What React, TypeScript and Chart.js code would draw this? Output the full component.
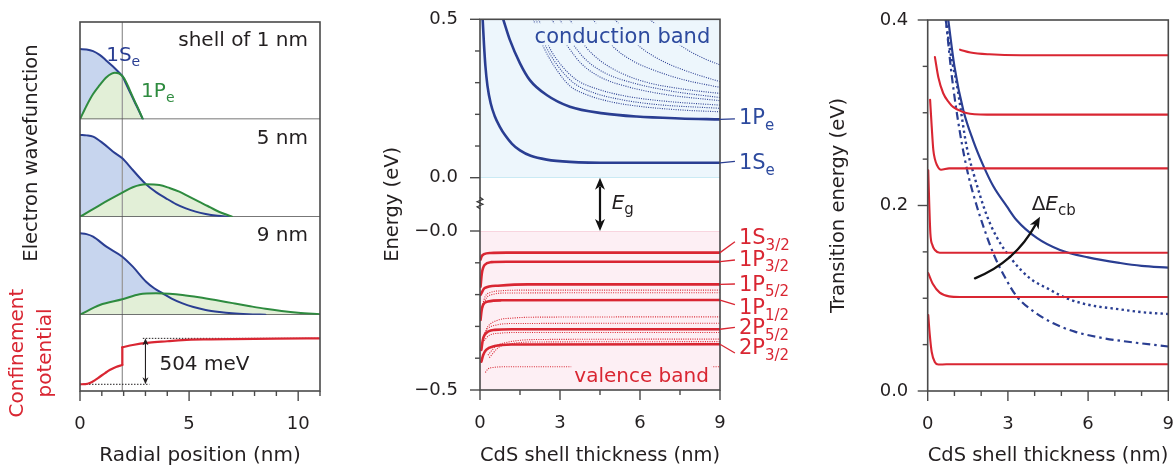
import React, { useEffect, useRef } from 'react';
import { Chart, registerables } from 'chart.js';

Chart.register(...registerables);

const FONT = '"DejaVu Sans", "Open Sans", sans-serif';
const TICK_FS = 18;
const TITLE_FS = 20;
const YTITLE_FS = 19.5;
const LS = 20;
const TXT = '#231f20';
const FRAME = '#4a4a4a';
const BLUE = '#2a3e92';
const BLUE_TXT = '#2d4a9e';
const GREEN = '#2e8b3f';
const RED = '#d92632';
const BLUE_FILL = '#c7d5ee';
const GREEN_FILL = '#e2efd7';
const CB_FILL = '#edf6fc';
const CB_EDGE = '#bde4f2';
const VB_FILL = '#fdeff4';
const VB_EDGE = '#f6cdd9';

Chart.defaults.font.family = FONT;
Chart.defaults.font.size = TICK_FS;
Chart.defaults.color = TXT;

// ---------------- Left panel: wavefunctions (normalised panel height) ----------------
const coreRadius = 1.94;
const s1_r1S = [0, 0.3, 0.6, 0.9, 1.2, 1.5, 1.8, 1.94, 2.1, 2.3, 2.5, 2.7, 2.88];
const s1_1S = [0.722, 0.718, 0.7, 0.662, 0.605, 0.545, 0.478, 0.445, 0.37, 0.275, 0.18, 0.088, 0];
const s1_r1P = [0, 0.3, 0.6, 0.9, 1.2, 1.45, 1.6, 1.8, 1.94, 2.1, 2.3, 2.5, 2.7, 2.88];
const s1_1P = [0, 0.14, 0.26, 0.35, 0.43, 0.47, 0.479, 0.47, 0.445, 0.39, 0.29, 0.19, 0.095, 0];

const s5_r1S = [0, 0.3, 0.6, 1.06, 1.52, 1.94, 2.42, 3.03, 3.5, 3.94, 4.4, 4.85, 5.3, 5.76, 6.3, 6.82];
const s5_1S = [0.839, 0.835, 0.822, 0.753, 0.667, 0.599, 0.479, 0.332, 0.25, 0.189, 0.13, 0.086, 0.052, 0.028, 0.01, 0];
const s5_r1P = [0, 0.91, 1.94, 2.42, 3.03, 3.64, 4.1, 4.55, 5.0, 5.45, 5.85, 6.2, 6.6, 6.97];
const s5_1P = [0, 0.12, 0.246, 0.302, 0.332, 0.325, 0.295, 0.257, 0.205, 0.154, 0.11, 0.069, 0.03, 0];

const s9_r1S = [0, 0.3, 0.6, 1.21, 1.94, 2.42, 3.03, 3.4, 3.79, 4.2, 4.7, 5.2, 5.76, 6.4, 6.97, 7.7, 8.5];
const s9_1S = [0.83, 0.822, 0.796, 0.694, 0.592, 0.49, 0.337, 0.27, 0.218, 0.165, 0.116, 0.078, 0.048, 0.027, 0.014, 0.005, 0];
const s9_r1P = [0, 0.91, 1.94, 2.73, 3.48, 4.1, 4.7, 5.45, 6.21, 7, 7.73, 8.5, 9.24, 10, 11];
const s9_1P = [0, 0.099, 0.157, 0.208, 0.218, 0.213, 0.201, 0.178, 0.15, 0.118, 0.089, 0.06, 0.038, 0.02, 0.004];

const potCoreR = [0, 0.25, 0.45, 0.7, 0.91, 1.15, 1.36, 1.65, 1.94];
const potCoreV = [0.088, 0.09, 0.105, 0.145, 0.187, 0.235, 0.275, 0.315, 0.341];
const potShellR = [1.94, 2.42, 3.18, 4, 4.7, 6, 6.97, 9, 11];
const potShellV = [0.573, 0.603, 0.633, 0.652, 0.668, 0.677, 0.681, 0.687, 0.69];
const offsetLabel = '504 meV';

// ---------------- Middle panel: energies (eV) vs shell thickness (nm) ----------------
const e1S_d = [0.1, 0.15, 0.2, 0.28, 0.4, 0.55, 0.75, 0.95, 1.2, 1.5, 1.9, 2.5, 3.37, 5, 9];
const e1S_E = [0.5, 0.42, 0.355, 0.29, 0.235, 0.195, 0.16, 0.133, 0.107, 0.086, 0.069, 0.057, 0.05, 0.047, 0.047];
const e1P_d = [0.87, 1.12, 1.5, 1.87, 2.5, 3.37, 4.62, 5.87, 7.5, 9];
const e1P_E = [0.5, 0.435, 0.361, 0.308, 0.261, 0.224, 0.203, 0.193, 0.187, 0.184];
const eHigher_d = [
  [2.0, 2.2, 2.37, 2.8, 3.37, 4, 5, 6, 7.5, 9],
  [2.1, 2.3, 2.47, 2.9, 3.5, 4.2, 5.2, 6.5, 9],
  [2.2, 2.4, 2.58, 3.0, 3.6, 4.4, 5.5, 7, 9],
  [2.7, 3.0, 3.3, 3.8, 4.5, 5.5, 7, 9],
  [3.0, 3.25, 3.5, 4.0, 4.7, 5.7, 7.2, 9],
  [3.37, 3.65, 3.95, 4.5, 5.3, 6.3, 7.6, 9],
  [4.24, 4.6, 5.0, 5.7, 6.5, 7.6, 9],
  [5.06, 5.5, 6.0, 6.8, 7.8, 9],
  [6.37, 6.9, 7.6, 8.3, 9],
];
const eHigher_E = [
  [0.5, 0.452, 0.415, 0.35, 0.29, 0.262, 0.238, 0.225, 0.214, 0.208],
  [0.5, 0.452, 0.415, 0.355, 0.3, 0.27, 0.248, 0.232, 0.219],
  [0.5, 0.455, 0.415, 0.36, 0.31, 0.28, 0.257, 0.241, 0.229],
  [0.5, 0.45, 0.413, 0.36, 0.318, 0.288, 0.262, 0.243],
  [0.5, 0.455, 0.42, 0.37, 0.33, 0.3, 0.273, 0.253],
  [0.5, 0.455, 0.415, 0.37, 0.33, 0.3, 0.28, 0.266],
  [0.5, 0.455, 0.413, 0.37, 0.34, 0.31, 0.285],
  [0.5, 0.455, 0.413, 0.37, 0.335, 0.303],
  [0.5, 0.46, 0.413, 0.38, 0.356],
];
const h1S32_d = [0.02, 0.06, 0.15, 0.4, 1, 9];
const h1S32_E = [-0.09, -0.08, -0.073, -0.069, -0.068, -0.068];
const h1P32_d = [0.02, 0.07, 0.17, 0.42, 1, 9];
const h1P32_E = [-0.175, -0.133, -0.107, -0.098, -0.0965, -0.0965];
const h1P52_d = [0.02, 0.17, 0.67, 1.8, 9];
const h1P52_E = [-0.201, -0.18, -0.172, -0.168, -0.168];
const h1P12_d = [0.02, 0.06, 0.11, 0.3, 0.8, 9];
const h1P12_E = [-0.28, -0.25, -0.233, -0.222, -0.218, -0.217];
const h2P52_d = [0.05, 0.1, 0.17, 0.55, 1.2, 9];
const h2P52_E = [-0.374, -0.345, -0.327, -0.311, -0.309, -0.309];
const h2P32_d = [0.05, 0.12, 0.23, 0.55, 1.18, 9];
const h2P32_E = [-0.411, -0.39, -0.374, -0.362, -0.357, -0.356];
const hOther_d = [
  [0.1, 0.2, 0.4, 0.8, 1.5, 9],
  [0.1, 0.25, 0.5, 1, 9],
  [0.16, 0.3, 0.68, 1.2, 2, 9],
  [0.12, 0.3, 0.6, 1.2, 9],
  [0.15, 0.35, 0.8, 1.5, 9],
  [0.3, 0.6, 1.03, 1.6, 2.5, 9],
  [0.35, 0.7, 1.2, 2, 9],
  [0.2, 0.3, 0.5, 1, 9],
];
const hOther_E = [
  [-0.23, -0.205, -0.193, -0.188, -0.186, -0.186],
  [-0.24, -0.21, -0.199, -0.195, -0.194],
  [-0.322, -0.3, -0.28, -0.274, -0.271, -0.27],
  [-0.335, -0.307, -0.296, -0.291, -0.29],
  [-0.345, -0.328, -0.321, -0.319, -0.319],
  [-0.39, -0.362, -0.35, -0.343, -0.341, -0.34],
  [-0.398, -0.366, -0.354, -0.349, -0.348],
  [-0.445, -0.434, -0.429, -0.427, -0.427],
];

// ---------------- Right panel: transition energies (eV) ----------------
const tr1_d = [1.21, 1.6, 2.3, 3.5, 9];
const tr1_E = [0.368, 0.365, 0.363, 0.362, 0.362];
const tr2_d = [0.27, 0.4, 0.58, 0.8, 0.96, 1.3, 1.58, 2.5, 9];
const tr2_E = [0.36, 0.338, 0.321, 0.311, 0.306, 0.301, 0.299, 0.298, 0.298];
const tr3_d = [0.09, 0.15, 0.21, 0.27, 0.34, 0.5, 0.8, 9];
const tr3_E = [0.314, 0.285, 0.26, 0.25, 0.244, 0.2385, 0.24, 0.24];
const tr4_d = [0.02, 0.06, 0.1, 0.18, 0.27, 0.45, 9];
const tr4_E = [0.238, 0.2, 0.17, 0.157, 0.152, 0.149, 0.149];
const tr5_d = [0.02, 0.2, 0.45, 0.8, 1.2, 9];
const tr5_E = [0.127, 0.115, 0.106, 0.102, 0.1013, 0.1013];
const tr6_d = [0.02, 0.08, 0.15, 0.27, 0.4, 0.7, 9];
const tr6_E = [0.082, 0.06, 0.042, 0.031, 0.0285, 0.0288, 0.0288];
const cbSolid_d = [0.77, 1.0, 1.33, 1.7, 2.08, 2.45, 2.96, 3.33, 4.08, 4.95, 6.0, 7.2, 8.0, 9.0];
const cbSolid_E = [0.4, 0.35, 0.303, 0.27, 0.243, 0.221, 0.199, 0.184, 0.165, 0.152, 0.144, 0.138, 0.135, 0.133];
const cbDot_d = [0.68, 0.85, 1.08, 1.46, 1.71, 2.2, 2.6, 3.2, 3.8, 4.58, 5.2, 6.0, 7.2, 8.0, 9.0];
const cbDot_E = [0.4, 0.365, 0.332, 0.263, 0.235, 0.19, 0.165, 0.14, 0.122, 0.109, 0.1, 0.093, 0.088, 0.085, 0.083];
const cbDash_d = [0.68, 0.9, 1.21, 1.5, 1.83, 2.1, 2.46, 2.9, 3.33, 4.0, 4.7, 5.5, 6.57, 7.8, 9];
const cbDash_E = [0.4, 0.34, 0.278, 0.235, 0.2, 0.176, 0.148, 0.122, 0.102, 0.085, 0.073, 0.064, 0.057, 0.052, 0.048];

// ---------------- helpers ----------------
const near = (a: number, b: number) => Math.abs(a - b) < 1e-6;
const pts = (xs: number[], ys: number[]) => xs.map((x, i) => ({ x, y: ys[i] }));
const last = (a: number[]) => a[a.length - 1];

type Part = { t: string; sub?: boolean; it?: boolean };

function drawRich(ctx: CanvasRenderingContext2D, parts: Part[], x: number, yc: number, color: string,
  align: 'left' | 'right' | 'center' = 'left', size = LS, bg?: string, subSize?: number) {
  const sub = subSize || Math.round(size * 0.72);
  const fontOf = (p: Part) => `${p.it ? 'italic ' : ''}${p.sub ? sub : size}px ${FONT}`;
  const widths = parts.map((p) => { ctx.font = fontOf(p); return ctx.measureText(p.t).width; });
  const total = widths.reduce((a, b) => a + b, 0);
  let cx = align === 'left' ? x : align === 'right' ? x - total : x - total / 2;
  const base = yc + size * 0.365;
  ctx.save();
  if (bg) { ctx.fillStyle = bg; ctx.fillRect(cx - 3, yc - size * 0.56, total + 6, size * 1.06); }
  ctx.fillStyle = color; ctx.textAlign = 'left'; ctx.textBaseline = 'alphabetic';
  parts.forEach((p, i) => { ctx.font = fontOf(p); ctx.fillText(p.t, cx, p.sub ? base + size * 0.25 : base); cx += widths[i]; });
  ctx.restore();
}

function arrowHead(ctx: CanvasRenderingContext2D, tx: number, ty: number, ang: number, len: number, wid: number) {
  const c = Math.cos(ang), s = Math.sin(ang);
  const bx = tx - len * c, by = ty - len * s;
  const nx = -s * wid / 2, ny = c * wid / 2;
  ctx.beginPath();
  ctx.moveTo(tx, ty);
  ctx.lineTo(bx + nx, by + ny);
  ctx.lineTo(tx - len * 0.72 * c, ty - len * 0.72 * s);
  ctx.lineTo(bx - nx, by - ny);
  ctx.closePath();
  ctx.fill();
}

function line(data: any[], yAxisID: string, color: string, width: number, extra: any = {}) {
  return { type: 'line', data, yAxisID, xAxisID: 'x', borderColor: color, borderWidth: width, pointRadius: 0,
    fill: false, cubicInterpolationMode: 'monotone', borderCapStyle: 'round', ...extra };
}

const framePlugin = {
  id: 'frame',
  afterDatasetsDraw(chart: any) {
    const { ctx, chartArea: a } = chart;
    ctx.save(); ctx.strokeStyle = FRAME; ctx.lineWidth = 1.6;
    ctx.strokeRect(a.left, a.top, a.right - a.left, a.bottom - a.top);
    ctx.restore();
  },
};

const tickMarks = (ids: string[]) => ({
  id: 'tickMarks',
  afterDraw(chart: any) {
    const { ctx, chartArea: a } = chart;
    ctx.save(); ctx.strokeStyle = FRAME; ctx.lineWidth = 1.4;
    ids.forEach((id) => {
      const s = chart.scales[id];
      s.ticks.forEach((t: any) => {
        const len = t.label ? 10 : 5;
        const p = s.getPixelForValue(t.value);
        ctx.beginPath();
        if (s.isHorizontal()) { ctx.moveTo(p, a.bottom); ctx.lineTo(p, a.bottom + len); }
        else { ctx.moveTo(a.left, p); ctx.lineTo(a.left - len, p); }
        ctx.stroke();
      });
    });
    ctx.restore();
  },
});

const noPad = (s: any) => { s.paddingTop = 0; s.paddingBottom = 0; s.paddingLeft = 0; s.paddingRight = 0; };
const noGrid = { display: false, drawTicks: false };

function xAxis(max: number, step: number, every: number, height: number, title: string) {
  return {
    type: 'linear', position: 'bottom', min: 0, max,
    afterFit: (s: any) => { s.height = height; noPad(s); },
    grid: noGrid, border: { display: false },
    ticks: { stepSize: step, autoSkip: false, maxRotation: 0, padding: 23, color: TXT, font: { size: TICK_FS, family: FONT },
      callback: (v: number) => (near(v % every, 0) ? String(Math.round(v)) : '') },
    title: { display: true, text: title, color: TXT, font: { size: TITLE_FS, family: FONT }, padding: { top: 0, bottom: -2 } },
  };
}

const baseOptions = (padding: any) => ({
  responsive: false, animation: false, events: [],
  layout: { padding },
  plugins: { legend: { display: false }, tooltip: { enabled: false } },
});

// ---------------- chart configs ----------------
const panelEdgeX = [0, 11];
const panelEdgeY = [0, 0];

function leftConfig() {
  const datasets = [
    line(pts(s1_r1P, s1_1P), 'p1', GREEN, 2, { fill: 'origin', backgroundColor: GREEN_FILL }),
    line(pts(s1_r1S, s1_1S), 'p1', BLUE, 2, { fill: 'origin', backgroundColor: BLUE_FILL }),
    line(pts(s5_r1P, s5_1P), 'p2', GREEN, 2, { fill: 'origin', backgroundColor: GREEN_FILL }),
    line(pts(s5_r1S, s5_1S), 'p2', BLUE, 2, { fill: 'origin', backgroundColor: BLUE_FILL }),
    line(pts(s9_r1P, s9_1P), 'p3', GREEN, 2, { fill: 'origin', backgroundColor: GREEN_FILL }),
    line(pts(s9_r1S, s9_1S), 'p3', BLUE, 2, { fill: 'origin', backgroundColor: BLUE_FILL }),
    line(pts(panelEdgeX, panelEdgeY), 'p1', FRAME, 1.6, { borderCapStyle: 'butt' }),
    line(pts(panelEdgeX, panelEdgeY), 'p2', FRAME, 1.6, { borderCapStyle: 'butt' }),
    line(pts(panelEdgeX, panelEdgeY), 'p3', FRAME, 1.6, { borderCapStyle: 'butt' }),
    line(pts(potCoreR, potCoreV), 'p4', RED, 2.2),
    line(pts([coreRadius, coreRadius], [last(potCoreV), potShellV[0]]), 'p4', RED, 2.2, { cubicInterpolationMode: 'default', tension: 0 }),
    line(pts(potShellR, potShellV), 'p4', RED, 2.2),
    line(pts([2.88, 11], [last(potShellV), last(potShellV)]), 'p4', TXT, 1, { borderDash: [1.5, 1.5], borderCapStyle: 'butt' }),
    line(pts([0, 3.18], [potCoreV[0], potCoreV[0]]), 'p4', TXT, 1, { borderDash: [1.5, 1.5], borderCapStyle: 'butt' }),
  ];
  const panel = (w: number) => ({ type: 'linear', min: 0, max: 1, display: false, position: 'left', stack: 'L', stackWeight: w });
  const anno = {
    id: 'leftAnno',
    beforeDatasetsDraw(chart: any) {
      const { ctx, chartArea: a, scales: { x } } = chart;
      const px = x.getPixelForValue(coreRadius);
      ctx.save(); ctx.strokeStyle = '#9a9a9a'; ctx.lineWidth = 1.3;
      ctx.beginPath(); ctx.moveTo(px, a.top); ctx.lineTo(px, a.bottom); ctx.stroke(); ctx.restore();
    },
    afterDatasetsDraw(chart: any) {
      const { ctx, scales: { x, p1, p2, p3, p4 } } = chart;
      drawRich(ctx, [{ t: 'shell of 1 nm' }], x.getPixelForValue(10.45), p1.getPixelForValue(0.83), TXT, 'right');
      drawRich(ctx, [{ t: '5 nm' }], x.getPixelForValue(10.45), p2.getPixelForValue(0.821), TXT, 'right');
      drawRich(ctx, [{ t: '9 nm' }], x.getPixelForValue(10.45), p3.getPixelForValue(0.83), TXT, 'right');
      drawRich(ctx, [{ t: '1S' }, { t: 'e', sub: true }], x.getPixelForValue(1.2), p1.getPixelForValue(0.675), BLUE, 'left', 20);
      drawRich(ctx, [{ t: '1P' }, { t: 'e', sub: true }], x.getPixelForValue(2.8), p1.getPixelForValue(0.306), GREEN, 'left', 20);
      drawRich(ctx, [{ t: offsetLabel }], x.getPixelForValue(3.64), p4.getPixelForValue(0.367), TXT, 'left');
      const ax = x.getPixelForValue(3.0);
      const yTop = p4.getPixelForValue(last(potShellV));
      const yBot = p4.getPixelForValue(potCoreV[0]);
      ctx.save(); ctx.strokeStyle = TXT; ctx.fillStyle = TXT; ctx.lineWidth = 1.1;
      ctx.beginPath(); ctx.moveTo(ax, yTop + 5); ctx.lineTo(ax, yBot - 5); ctx.stroke();
      arrowHead(ctx, ax, yTop, -Math.PI / 2, 7, 6);
      arrowHead(ctx, ax, yBot, Math.PI / 2, 7, 6);
      ctx.restore();
    },
  };
  return {
    type: 'line',
    data: { datasets },
    options: {
      ...baseOptions({ left: 80, right: 10, top: 22, bottom: 0 }),
      plugins: { legend: { display: false }, tooltip: { enabled: false }, filler: { drawTime: 'beforeDatasetsDraw' } },
      scales: {
        x: xAxis(11, 1, 5, 75, 'Radial position (nm)'),
        p4: panel(76.3), p3: panel(98), p2: panel(97.4), p1: panel(97.3),
      },
    },
    plugins: [anno, framePlugin, tickMarks(['x'])],
  };
}

const bandX = [0, 9];
const cbTop = [0.5, 0.5];
const vbBottom = [-0.5, -0.5];
const bandZero = [0, 0];

const cbLabels = [
  { name: '1P', sub: 'e', lineE: last(e1P_E), leaderE: 0.186, textE: 0.1925 },
  { name: '1S', sub: 'e', lineE: last(e1S_E), leaderE: 0.0517, textE: 0.0505 },
];
const vbLabels = [
  { name: '1S', sub: '3/2', lineE: last(h1S32_E), leaderE: -0.0336, textE: -0.018 },
  { name: '1P', sub: '3/2', lineE: last(h1P32_E), leaderE: -0.0912, textE: -0.0858 },
  { name: '1P', sub: '5/2', lineE: last(h1P52_E), leaderE: -0.1667, textE: -0.1645 },
  { name: '1P', sub: '1/2', lineE: last(h1P12_E), leaderE: -0.2318, textE: -0.238 },
  { name: '2P', sub: '5/2', lineE: last(h2P52_E), leaderE: -0.3028, textE: -0.301 },
  { name: '2P', sub: '3/2', lineE: last(h2P32_E), leaderE: -0.3836, textE: -0.3638 },
];

function midConfig() {
  const datasets: any[] = [
    line(pts(bandX, cbTop), 'yt', 'rgba(0,0,0,0)', 0, { fill: 'origin', backgroundColor: CB_FILL, order: 10 }),
    line(pts(bandX, bandZero), 'yt', CB_EDGE, 1.6, { order: 9 }),
    line(pts(bandX, vbBottom), 'yb', 'rgba(0,0,0,0)', 0, { fill: 'origin', backgroundColor: VB_FILL, order: 10 }),
    line(pts(bandX, bandZero), 'yb', VB_EDGE, 1.6, { order: 9 }),
  ];
  eHigher_d.forEach((d, i) => datasets.push(line(pts(d, eHigher_E[i]), 'yt', BLUE, 1.1, { borderDash: [1, 1.3], borderCapStyle: 'butt' })));
  hOther_d.forEach((d, i) => datasets.push(line(pts(d, hOther_E[i]), 'yb', RED, 1.1, { borderDash: [1, 1.3], borderCapStyle: 'butt' })));
  datasets.push(line(pts(e1S_d, e1S_E), 'yt', BLUE, 2.6));
  datasets.push(line(pts(e1P_d, e1P_E), 'yt', BLUE, 2.6));
  [[h1S32_d, h1S32_E], [h1P32_d, h1P32_E], [h1P52_d, h1P52_E], [h1P12_d, h1P12_E], [h2P52_d, h2P52_E], [h2P32_d, h2P32_E]]
    .forEach(([d, e]) => datasets.push(line(pts(d, e), 'yb', RED, 2.6)));

  const yTicks = (labels: [number, string][]) => ({
    stepSize: 0.1, padding: 22, autoSkip: false, color: TXT, font: { size: TICK_FS, family: FONT },
    callback: (v: number) => { const m = labels.find(([k]) => near(k, v)); return m ? m[1] : ''; },
  });
  const fixW = (s: any) => { s.width = 110; noPad(s); };
  const anno = {
    id: 'midAnno',
    afterDatasetsDraw(chart: any) {
      const { ctx, scales: { x, yt, yb, yg } } = chart;
      drawRich(ctx, [{ t: 'conduction band' }], x.getPixelForValue(5.34), yt.getPixelForValue(0.4505), BLUE_TXT, 'center', 21, CB_FILL);
      drawRich(ctx, [{ t: 'valence band' }], x.getPixelForValue(6.06), yb.getPixelForValue(-0.451), RED, 'center', 20, VB_FILL);
      const xr = x.getPixelForValue(9);
      const xl = x.getPixelForValue(9.56);
      const xt = x.getPixelForValue(9.71);
      ctx.save(); ctx.lineWidth = 1.3;
      cbLabels.forEach((l) => {
        ctx.strokeStyle = BLUE; ctx.beginPath();
        ctx.moveTo(xr, yt.getPixelForValue(l.lineE)); ctx.lineTo(xl, yt.getPixelForValue(l.leaderE)); ctx.stroke();
        drawRich(ctx, [{ t: l.name }, { t: l.sub, sub: true }], xt, yt.getPixelForValue(l.textE), BLUE_TXT, 'left', 21, undefined, 15);
      });
      vbLabels.forEach((l) => {
        ctx.strokeStyle = RED; ctx.beginPath();
        ctx.moveTo(xr, yb.getPixelForValue(l.lineE)); ctx.lineTo(xl, yb.getPixelForValue(l.leaderE)); ctx.stroke();
        drawRich(ctx, [{ t: l.name }, { t: l.sub, sub: true }], xt, yb.getPixelForValue(l.textE), RED, 'left', 21, undefined, 15);
      });
      const ax = x.getPixelForValue(4.5);
      const y1 = yt.getPixelForValue(0), y2 = yb.getPixelForValue(0);
      ctx.strokeStyle = '#111'; ctx.fillStyle = '#111'; ctx.lineWidth = 2.2;
      ctx.beginPath(); ctx.moveTo(ax, y1 + 9); ctx.lineTo(ax, y2 - 9); ctx.stroke();
      arrowHead(ctx, ax, y1, -Math.PI / 2, 12, 10);
      arrowHead(ctx, ax, y2, Math.PI / 2, 12, 10);
      ctx.restore();
      drawRich(ctx, [{ t: 'E', it: true }, { t: 'g', sub: true }], x.getPixelForValue(4.94), yg.getPixelForValue(0.55), TXT, 'left', 20, undefined, 15);
    },
    afterDraw(chart: any) {
      const { ctx, chartArea: a, scales: { yg } } = chart;
      const cy = yg.getPixelForValue(0.52);
      const cx = a.left;
      ctx.save(); ctx.strokeStyle = '#333'; ctx.lineWidth = 1.1;
      ctx.beginPath();
      [[0, -6], [3, -4], [-3, -1.5], [3, 1], [-3, 3.5], [0, 5.5]].forEach(([dx, dy], i) => {
        if (i === 0) ctx.moveTo(cx + dx, cy + dy); else ctx.lineTo(cx + dx, cy + dy);
      });
      ctx.stroke(); ctx.restore();
    },
  };
  return {
    type: 'line',
    data: { datasets },
    options: {
      ...baseOptions({ left: 0, right: 70, top: 19.3, bottom: 0 }),
      scales: {
        x: xAxis(9, 1.5, 3, 76, 'CdS shell thickness (nm)'),
        yb: { type: 'linear', position: 'left', stack: 'M', stackWeight: 159, min: -0.5, max: 0, afterFit: fixW,
          grid: noGrid, border: { display: false }, ticks: yTicks([[-0.5, '−0.5'], [0, '−0.0']]) },
        yg: { type: 'linear', position: 'left', stack: 'M', stackWeight: 53.3, min: 0, max: 1, afterFit: fixW,
          grid: noGrid, border: { display: false }, ticks: { display: false },
          title: { display: true, text: 'Energy (eV)', color: TXT, font: { size: YTITLE_FS, family: FONT }, padding: { top: 11, bottom: 0 } } },
        yt: { type: 'linear', position: 'left', stack: 'M', stackWeight: 158.4, min: 0, max: 0.5, afterFit: fixW,
          grid: noGrid, border: { display: false }, ticks: yTicks([[0.5, '0.5'], [0, '0.0']]) },
      },
    },
    plugins: [framePlugin, anno, tickMarks(['x', 'yt', 'yb'])],
  };
}

const deltaArrowStart = [1.77, 0.1215];
const deltaArrowCtrl = [3.27, 0.139];
const deltaArrowEnd = [4.2, 0.188];

function rightConfig() {
  const datasets: any[] = [];
  [[tr1_d, tr1_E], [tr2_d, tr2_E], [tr3_d, tr3_E], [tr4_d, tr4_E], [tr5_d, tr5_E], [tr6_d, tr6_E]]
    .forEach(([d, e]) => datasets.push(line(pts(d, e), 'y', RED, 2.1)));
  datasets.push(line(pts(cbSolid_d, cbSolid_E), 'y', BLUE, 2.2));
  datasets.push(line(pts(cbDot_d, cbDot_E), 'y', BLUE, 2.4, { borderDash: [2.4, 3.2], borderCapStyle: 'butt' }));
  datasets.push(line(pts(cbDash_d, cbDash_E), 'y', BLUE, 2.2, { borderDash: [8, 4, 2.5, 4], borderCapStyle: 'butt' }));
  const anno = {
    id: 'rightAnno',
    afterDatasetsDraw(chart: any) {
      const { ctx, scales: { x, y } } = chart;
      drawRich(ctx, [{ t: 'Δ' }, { t: 'E', it: true }, { t: 'cb', sub: true }], x.getPixelForValue(3.89), y.getPixelForValue(0.2032), TXT, 'left', 20, undefined, 15);
      const sx = x.getPixelForValue(deltaArrowStart[0]), sy = y.getPixelForValue(deltaArrowStart[1]);
      const cx = x.getPixelForValue(deltaArrowCtrl[0]), cy = y.getPixelForValue(deltaArrowCtrl[1]);
      const ex = x.getPixelForValue(deltaArrowEnd[0]), ey = y.getPixelForValue(deltaArrowEnd[1]);
      const ang = Math.atan2(ey - cy, ex - cx);
      ctx.save(); ctx.strokeStyle = '#111'; ctx.fillStyle = '#111'; ctx.lineWidth = 2.4; ctx.lineCap = 'round';
      ctx.beginPath(); ctx.moveTo(sx, sy);
      ctx.quadraticCurveTo(cx, cy, ex - 9 * Math.cos(ang), ey - 9 * Math.sin(ang)); ctx.stroke();
      arrowHead(ctx, ex, ey, ang, 12, 10);
      ctx.restore();
    },
  };
  return {
    type: 'line',
    data: { datasets },
    options: {
      ...baseOptions({ left: 0, right: 6.7, top: 20, bottom: 0 }),
      scales: {
        x: xAxis(9, 1, 3, 75, 'CdS shell thickness (nm)'),
        y: { type: 'linear', position: 'left', min: 0, max: 0.4, afterFit: (s: any) => { s.width = 107.7; noPad(s); },
          grid: noGrid, border: { display: false },
          ticks: { stepSize: 0.05, padding: 19.4, autoSkip: false, color: TXT, font: { size: TICK_FS, family: FONT },
            callback: (v: number) => (near(v, 0) ? '0.0' : near(v, 0.2) ? '0.2' : near(v, 0.4) ? '0.4' : '') },
          title: { display: true, text: 'Transition energy (eV)', color: TXT, font: { size: YTITLE_FS, family: FONT }, padding: { top: 7, bottom: 0 } } },
      },
    },
    plugins: [framePlugin, anno, tickMarks(['x', 'y'])],
  };
}

function ChartCanvas({ make, left, width }: { make: () => any; left: number; width: number }) {
  const ref = useRef<HTMLCanvasElement>(null);
  useEffect(() => {
    const chart = new Chart(ref.current as HTMLCanvasElement, make());
    return () => chart.destroy();
  }, []);
  return <canvas ref={ref} width={width} height={466} style={{ position: 'absolute', left, top: 0, width, height: 466 }} />;
}

export default function App() {
  const rot = { position: 'absolute' as const, transform: 'translate(-50%, -50%) rotate(-90deg)', whiteSpace: 'nowrap' as const,
    fontFamily: FONT, textAlign: 'center' as const };
  return (
    <div style={{ position: 'absolute', left: 0, top: 0, width: 1175, height: 466, background: '#fff', overflow: 'hidden' }}>
      <ChartCanvas make={leftConfig} left={0} width={330} />
      <ChartCanvas make={midConfig} left={370} width={420} />
      <ChartCanvas make={rightConfig} left={820} width={355} />
      <div style={{ ...rot, left: 31, top: 153, color: TXT, fontSize: 19.5, lineHeight: '24px' }}>Electron wavefunction</div>
      <div style={{ ...rot, left: 30, top: 353, color: RED, fontSize: 20, lineHeight: '28px' }}>Confinement<br />potential</div>
    </div>
  );
}
